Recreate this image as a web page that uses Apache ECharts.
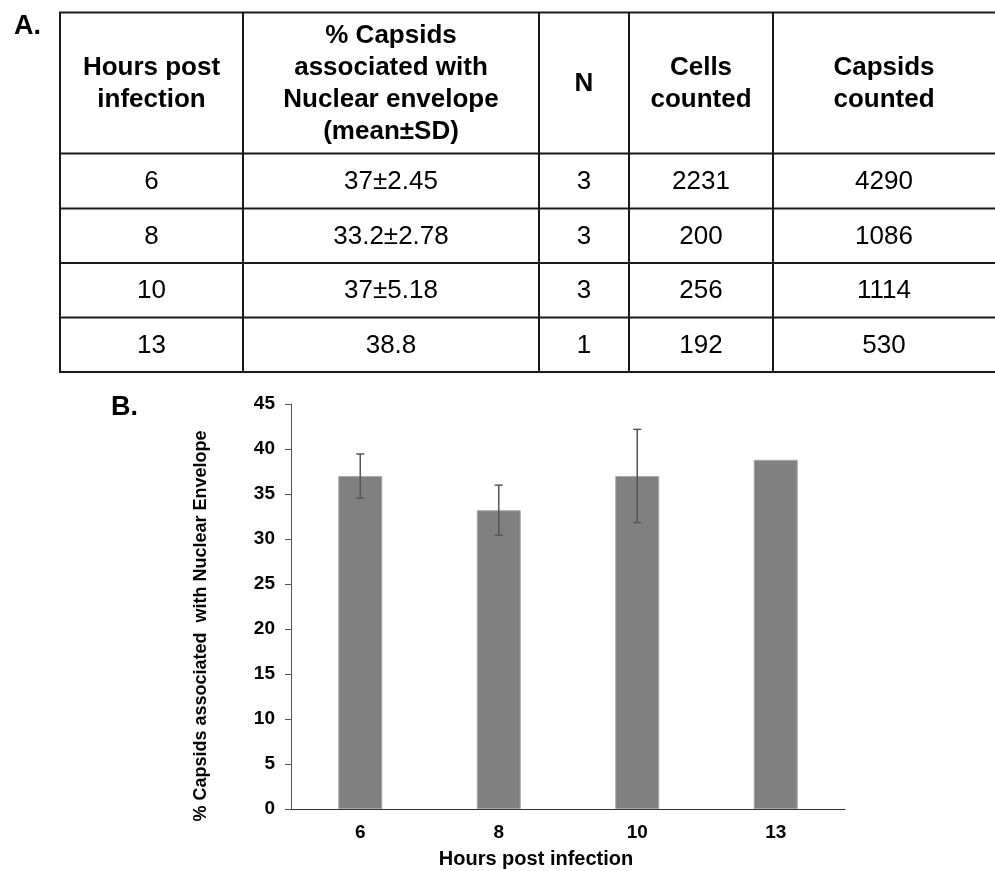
<!DOCTYPE html>
<html>
<head>
<meta charset="utf-8">
<script src="https://cdn.jsdelivr.net/npm/echarts@6/dist/echarts.min.js"></script>
<style>
html,body{margin:0;padding:0;background:#fff;}
#main{width:995px;height:871px;}
</style>
</head>
<body>
<div id="main"></div>
<script>
// ---- Data ----
const hours = ['6', '8', '10', '13'];
const pctLabels = ['37±2.45', '33.2±2.78', '37±5.18', '38.8'];
const nValues = ['3', '3', '3', '1'];
const cellsCounted = ['2231', '200', '256', '192'];
const capsidsCounted = ['4290', '1086', '1114', '530'];
const means = [37, 33.2, 37, 38.8];
const sds = [2.45, 2.78, 5.18, null];
const headers = [
  ['Hours post', 'infection'],
  ['% Capsids', 'associated with', 'Nuclear envelope', '(mean±SD)'],
  ['N'],
  ['Cells', 'counted'],
  ['Capsids', 'counted']
];
const yAxisTitle = '% Capsids associated  with Nuclear Envelope';
const xAxisTitle = 'Hours post infection';

// ---- Layout ----
const FONT = 'Liberation Sans, Arial, Helvetica, sans-serif';
const colX = [60, 243, 539, 629, 773, 995];
const rowY = [12.5, 153.5, 208.5, 263, 317.5, 372];
const lineColor = '#1a1a1a';
const graphics = [];

rowY.forEach(y => {
  graphics.push({type: 'line', shape: {x1: colX[0] - 1, y1: y, x2: 995, y2: y},
    style: {stroke: lineColor, lineWidth: 2}, silent: true});
});
colX.slice(0, 5).forEach(x => {
  graphics.push({type: 'line', shape: {x1: x, y1: rowY[0], x2: x, y2: rowY[rowY.length - 1]},
    style: {stroke: lineColor, lineWidth: 2}, silent: true});
});
const headerMid = (rowY[0] + rowY[1]) / 2 + 1;
const lh = 32;
headers.forEach((lines, c) => {
  const cx = (colX[c] + colX[c + 1]) / 2;
  lines.forEach((t, k) => {
    const y = headerMid + (k - (lines.length - 1) / 2) * lh;
    graphics.push({type: 'text', x: cx, y: y, silent: true,
      style: {text: t, fill: '#000', font: 'bold 26px ' + FONT, align: 'center', verticalAlign: 'middle'}});
  });
});
const cols = [hours, pctLabels, nValues, cellsCounted, capsidsCounted];
for (let r = 0; r < hours.length; r++) {
  const cy = (rowY[r + 1] + rowY[r + 2]) / 2 + 1;
  cols.forEach((arr, c) => {
    const cx = (colX[c] + colX[c + 1]) / 2;
    graphics.push({type: 'text', x: cx, y: cy, silent: true,
      style: {text: arr[r], fill: '#000', font: '26px ' + FONT, align: 'center', verticalAlign: 'middle'}});
  });
}
graphics.push({type: 'text', x: 14, y: 27, silent: true,
  style: {text: 'A.', fill: '#000', font: 'bold 27px ' + FONT, align: 'left', verticalAlign: 'middle'}});
graphics.push({type: 'text', x: 111, y: 408, silent: true,
  style: {text: 'B.', fill: '#000', font: 'bold 27px ' + FONT, align: 'left', verticalAlign: 'middle'}});
graphics.push({type: 'text', x: 201, y: 626, rotation: Math.PI / 2, silent: true,
  style: {text: yAxisTitle, fill: '#000', font: 'bold 18px ' + FONT, align: 'center', verticalAlign: 'middle'}});
graphics.push({type: 'text', x: 536, y: 859, silent: true,
  style: {text: xAxisTitle, fill: '#000', font: 'bold 20px ' + FONT, align: 'center', verticalAlign: 'middle'}});

const errData = [];
hours.forEach((h, i) => { if (sds[i] != null) errData.push([i, means[i], sds[i]]); });

const chart = echarts.init(document.getElementById('main'), null, {renderer: 'canvas'});
chart.setOption({
  animation: false,
  backgroundColor: '#fff',
  textStyle: {fontFamily: FONT, fontWeight: 'bold', color: '#000'},
  grid: {left: 291, right: 150, top: 404, bottom: 62, containLabel: false},
  xAxis: {
    type: 'category',
    data: hours,
    axisLine: {lineStyle: {color: '#333', width: 1}},
    axisTick: {show: false},
    axisLabel: {color: '#000', fontFamily: FONT, fontWeight: 'bold', fontSize: 19, margin: 14}
  },
  yAxis: {
    type: 'value',
    min: 0, max: 45, interval: 5,
    axisLine: {show: true, lineStyle: {color: '#555', width: 1}},
    axisTick: {show: true, inside: false, length: 6, lineStyle: {color: '#555'}},
    splitLine: {show: false},
    axisLabel: {color: '#000', fontFamily: FONT, fontWeight: 'bold', fontSize: 19, margin: 16}
  },
  series: [
    {
      type: 'bar',
      data: means,
      barWidth: 44,
      itemStyle: {color: '#808080', borderColor: '#a8a8a8', borderWidth: 1},
      silent: true
    },
    {
      type: 'custom',
      data: errData,
      z: 5,
      silent: true,
      encode: {x: 0, y: 1},
      renderItem: function (params, api) {
        const i = api.value(0), m = api.value(1), s = api.value(2);
        const top = api.coord([i, m + s]);
        const bot = api.coord([i, m - s]);
        const hw = 4;
        const st = {stroke: '#555', lineWidth: 1.5};
        return {
          type: 'group',
          children: [
            {type: 'line', shape: {x1: top[0], y1: top[1], x2: bot[0], y2: bot[1]}, style: st},
            {type: 'line', shape: {x1: top[0] - hw, y1: top[1], x2: top[0] + hw, y2: top[1]}, style: st},
            {type: 'line', shape: {x1: bot[0] - hw, y1: bot[1], x2: bot[0] + hw, y2: bot[1]}, style: st}
          ]
        };
      }
    }
  ],
  graphic: graphics
});
</script>
</body>
</html>
